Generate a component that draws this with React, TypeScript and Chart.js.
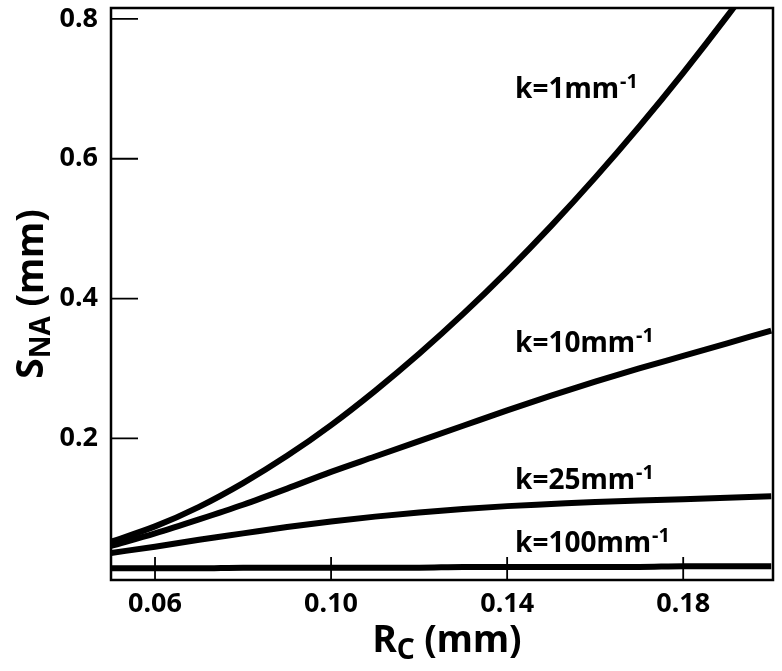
import React, { useEffect, useRef } from "react";
import { Chart, registerables } from "chart.js";

Chart.register(...registerables);

// R_C (mm)
const rc = [0.05, 0.06, 0.07, 0.08, 0.09, 0.1, 0.11, 0.12, 0.13, 0.14, 0.15, 0.16, 0.17, 0.18, 0.19, 0.2];
// S_NA (mm) for each k
const sK1 = [0.052, 0.074, 0.102, 0.136, 0.175, 0.219, 0.268, 0.321, 0.378, 0.439, 0.504, 0.573, 0.646, 0.723, 0.804, 0.889];
const sK10 = [0.046, 0.064, 0.084, 0.105, 0.128, 0.152, 0.174, 0.196, 0.218, 0.24, 0.261, 0.281, 0.3, 0.318, 0.336, 0.354];
const sK25 = [0.036, 0.045, 0.055, 0.064, 0.073, 0.081, 0.088, 0.094, 0.099, 0.103, 0.106, 0.109, 0.111, 0.113, 0.115, 0.117];
const sK100 = [0.014, 0.014, 0.014, 0.015, 0.015, 0.015, 0.015, 0.015, 0.016, 0.016, 0.016, 0.016, 0.016, 0.017, 0.017, 0.017];

const seriesNames = ["k=1", "k=10", "k=25", "k=100"];
const labelUnit = "mm";
const labelSup = "-1";
const labelX = [0.1418, 0.1418, 0.1418, 0.1418];
const labelY = [0.687, 0.324, 0.128, 0.038];

const xTicks = [0.06, 0.1, 0.14, 0.18];
const yTicks = [0.2, 0.4, 0.6, 0.8];

const xTitle = ["R", "C", " (mm)"];
const yTitle = ["S", "NA", " (mm)"];

const FAMILY = '"Noto Sans", "DejaVu Sans", sans-serif';

function drawSubTitle(ctx: CanvasRenderingContext2D, parts: string[], cx: number, by: number) {
  const big = `bold 37px ${FAMILY}`;
  const small = `bold 28px ${FAMILY}`;
  ctx.font = big;
  const w0 = ctx.measureText(parts[0]).width;
  const w2 = ctx.measureText(parts[2]).width;
  ctx.font = small;
  const w1 = ctx.measureText(parts[1]).width;
  const total = w0 + w1 + w2;
  let x = cx - total / 2;
  ctx.textAlign = "left";
  ctx.textBaseline = "alphabetic";
  ctx.font = big;
  ctx.fillText(parts[0], x, by);
  x += w0;
  ctx.font = small;
  ctx.fillText(parts[1], x, by + 7);
  x += w1;
  ctx.font = big;
  ctx.fillText(parts[2], x, by);
}

const overlay = {
  id: "overlay",
  afterDraw(chart: any) {
    const { ctx, chartArea: a, scales } = chart;
    const xs = scales.x;
    const ys = scales.y;
    ctx.save();
    ctx.strokeStyle = "#000";
    ctx.fillStyle = "#000";
    // inward ticks
    ctx.lineWidth = 1.8;
    ctx.beginPath();
    yTicks.forEach((v) => {
      const py = ys.getPixelForValue(v);
      ctx.moveTo(a.left, py);
      ctx.lineTo(a.left + 27, py);
    });
    xTicks.forEach((v) => {
      const px = xs.getPixelForValue(v);
      ctx.moveTo(px, a.bottom);
      ctx.lineTo(px, a.bottom - 23);
    });
    ctx.stroke();
    // frame
    ctx.lineWidth = 2.5;
    ctx.strokeRect(a.left, a.top, a.right - a.left, a.bottom - a.top);
    // curve labels
    seriesNames.forEach((name, i) => {
      const px = xs.getPixelForValue(labelX[i]);
      const py = ys.getPixelForValue(labelY[i]);
      ctx.font = `bold 28px ${FAMILY}`;
      ctx.textAlign = "left";
      ctx.textBaseline = "alphabetic";
      const main = name + labelUnit;
      ctx.fillText(main, px, py);
      const w = ctx.measureText(main).width;
      ctx.font = `bold 20px ${FAMILY}`;
      ctx.fillText(labelSup, px + w + 1, py - 10);
    });
    // axis titles
    drawSubTitle(ctx, xTitle, (a.left + a.right) / 2 + 5, 652);
    ctx.translate(43, (a.top + a.bottom) / 2);
    ctx.rotate(-Math.PI / 2);
    drawSubTitle(ctx, yTitle, 0, 0);
    ctx.restore();
  },
};

export default function App() {
  const ref = useRef<HTMLCanvasElement | null>(null);
  useEffect(() => {
    if (!ref.current) return;
    const all = [sK1, sK10, sK25, sK100];
    const chart = new Chart(ref.current, {
      type: "line",
      data: {
        datasets: all.map((vals, i) => ({
          label: seriesNames[i],
          data: rc.map((x, j) => ({ x, y: vals[j] })),
          borderColor: "#000",
          backgroundColor: "#000",
          borderWidth: 6,
          pointRadius: 0,
          fill: false,
          cubicInterpolationMode: "monotone" as const,
        })),
      },
      options: {
        animation: false,
        responsive: false,
        layout: { padding: { top: 8, right: 9, left: 0, bottom: 0 } },
        plugins: { legend: { display: false }, tooltip: { enabled: false } },
        scales: {
          x: {
            type: "linear",
            min: 0.05,
            max: 0.2004,
            afterBuildTicks: (s: any) => {
              s.ticks = xTicks.map((v) => ({ value: v }));
            },
            afterFit: (s: any) => {
              s.height = 91;
              s.paddingLeft = 0;
              s.paddingRight = 0;
            },
            grid: { display: false, drawTicks: false },
            border: { display: false },
            ticks: {
              color: "#000",
              font: { family: FAMILY, size: 27, weight: "bold" },
              padding: 8,
              autoSkip: false,
              maxRotation: 0,
              callback: (v: any) => Number(v).toFixed(2),
            },
          },
          y: {
            type: "linear",
            min: -0.0027,
            max: 0.8157,
            afterBuildTicks: (s: any) => {
              s.ticks = yTicks.map((v) => ({ value: v }));
            },
            afterFit: (s: any) => {
              s.width = 111;
              s.paddingTop = 0;
              s.paddingBottom = 0;
            },
            grid: { display: false, drawTicks: false },
            border: { display: false },
            ticks: {
              color: "#000",
              font: { family: FAMILY, size: 27, weight: "bold" },
              padding: 13,
              autoSkip: false,
              callback: (v: any) => Number(v).toFixed(1),
            },
          },
        },
      },
      plugins: [overlay],
    });
    return () => chart.destroy();
  }, []);
  return (
    <div style={{ position: "absolute", left: 0, top: 0, width: 782, height: 671, background: "#fff" }}>
      <canvas ref={ref} width={782} height={671} style={{ display: "block" }} />
    </div>
  );
}
